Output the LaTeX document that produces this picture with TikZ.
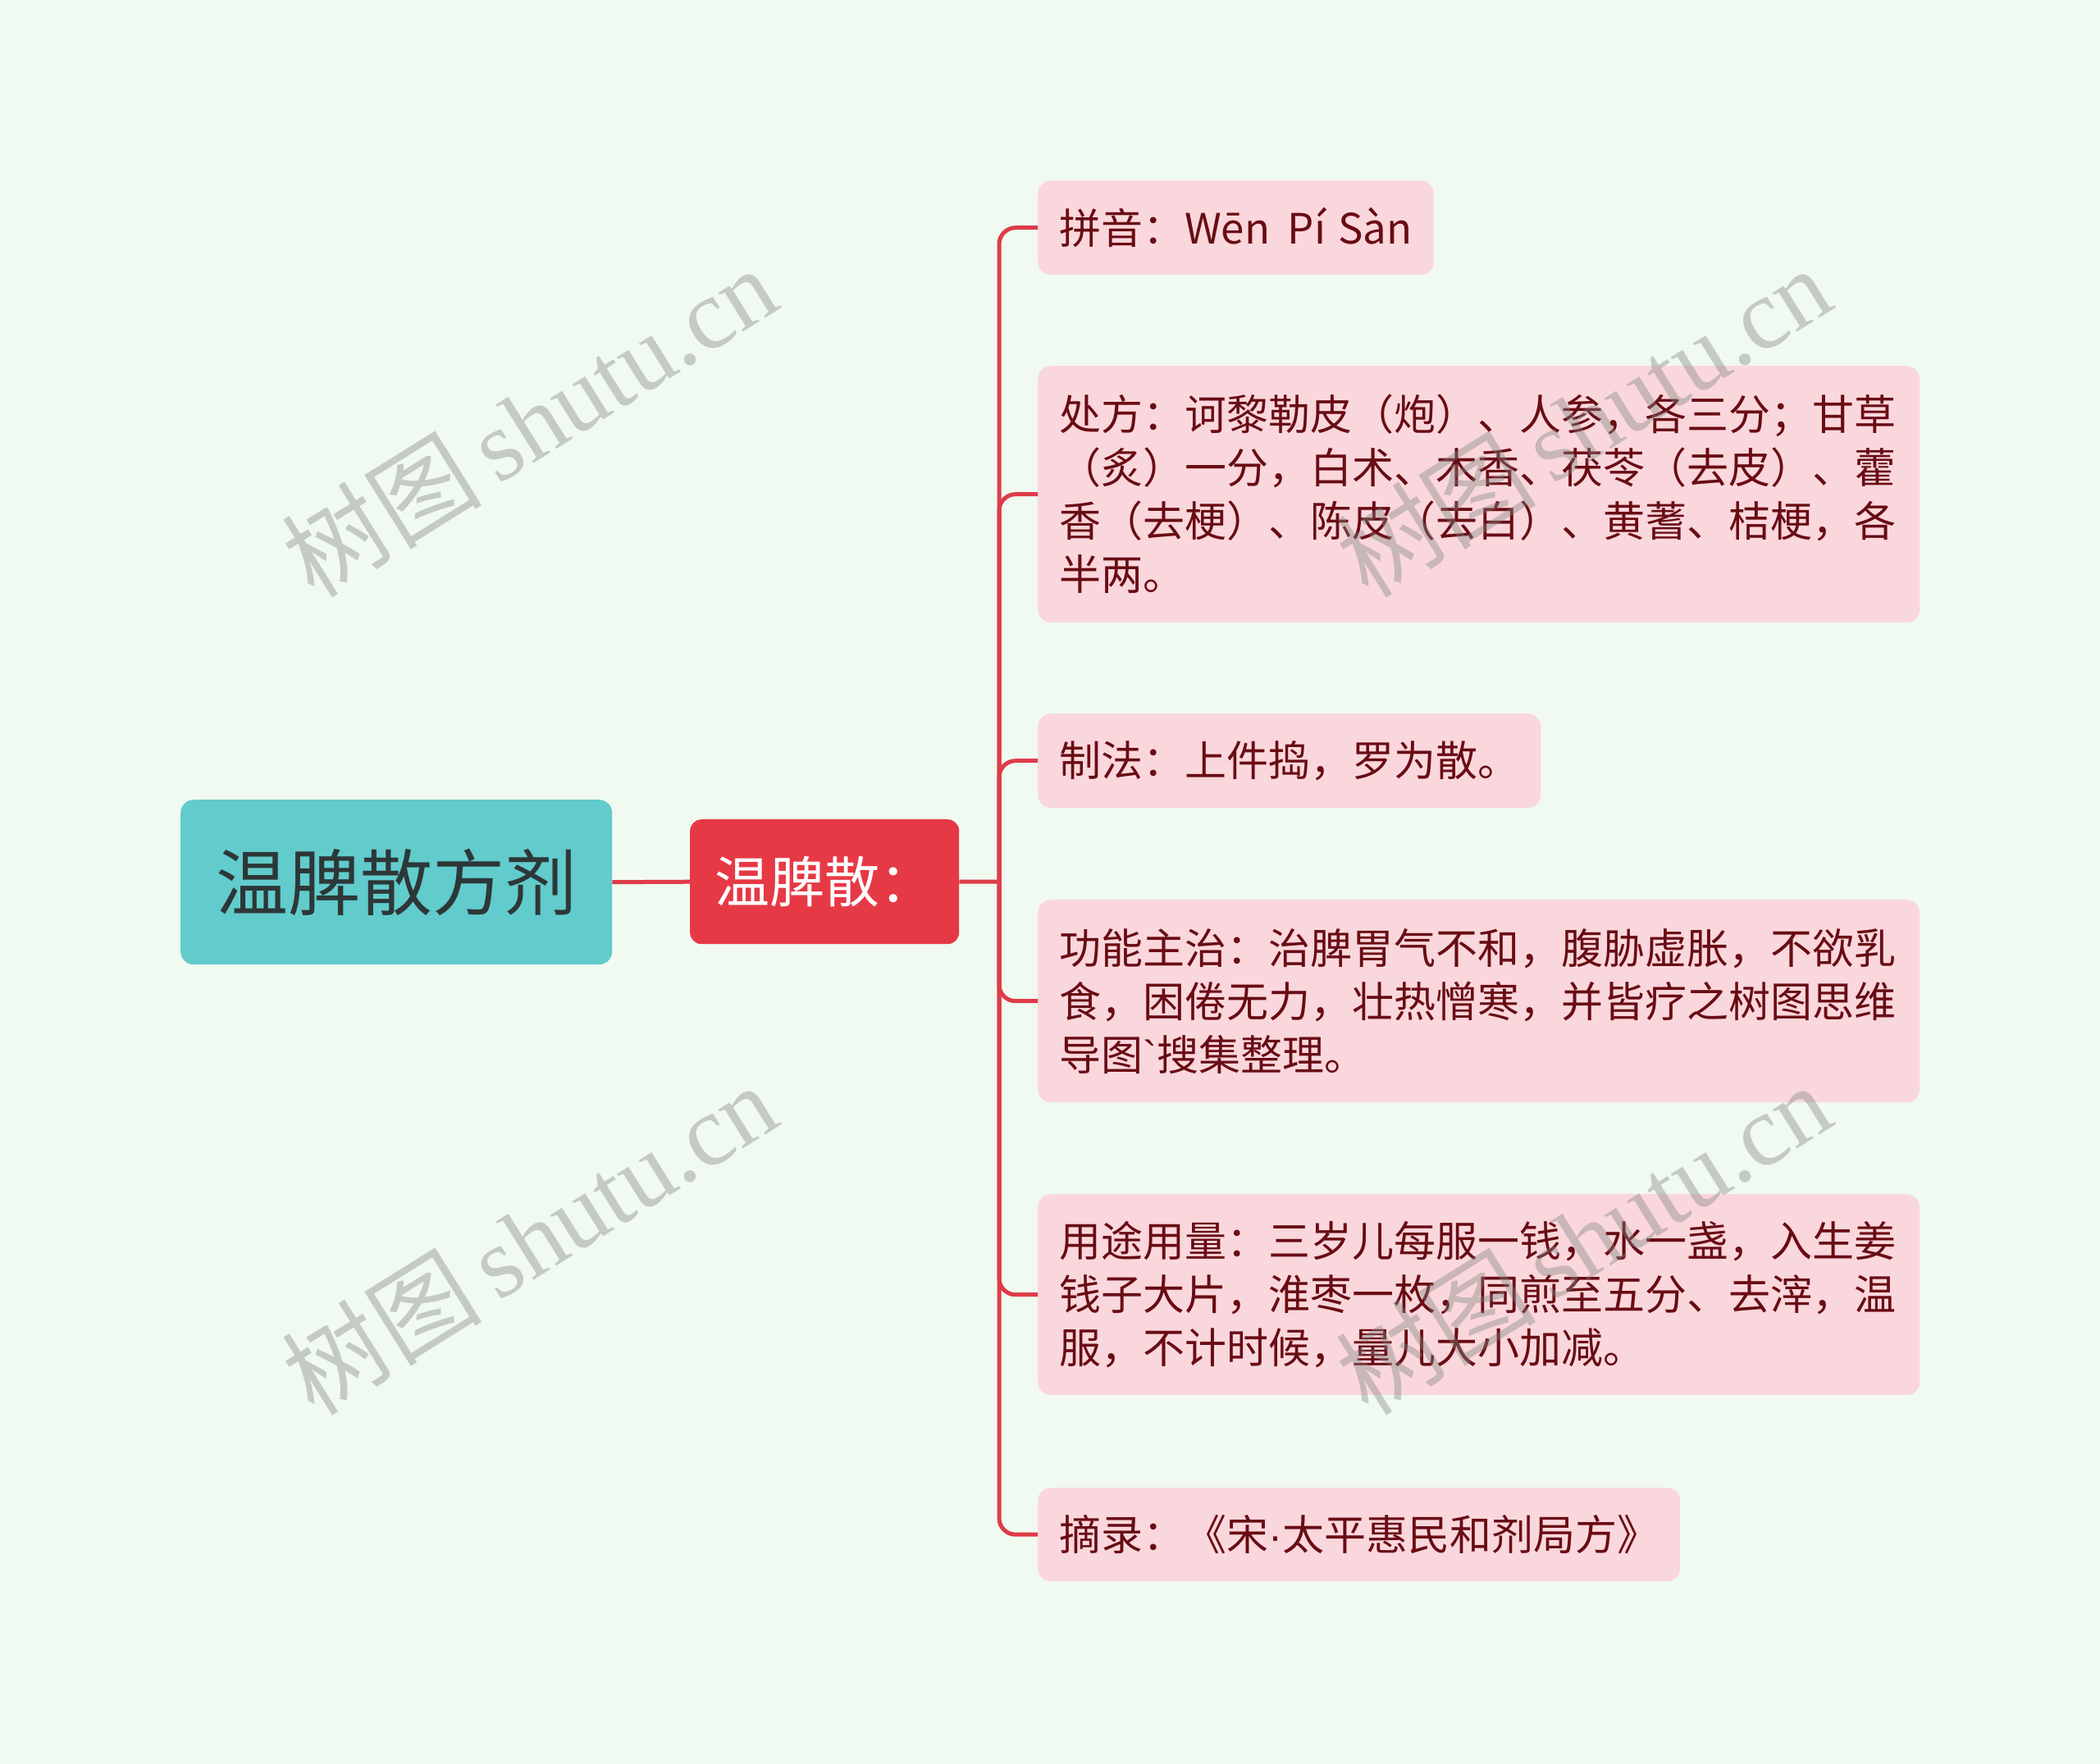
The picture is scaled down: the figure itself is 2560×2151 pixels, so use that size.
\documentclass[tikz,border=0pt]{standalone}
\usepackage{fontspec}
\newfontfamily\cjk{Noto Sans CJK SC}
\newfontfamily\wmlatin{Liberation Serif}
\newfontfamily\latsans{Liberation Sans}
\definecolor{bgc}{RGB}{240,250,240}
\definecolor{rootfill}{RGB}{98,203,204}
\definecolor{roottext}{RGB}{45,55,55}
\definecolor{redfill}{RGB}{230,57,70}
\definecolor{linered}{RGB}{222,60,72}
\definecolor{leaffill}{RGB}{250,215,220}
\definecolor{leaftext}{RGB}{105,12,20}
\definecolor{wmc}{RGB}{128,134,128}
\tikzset{
  rootbox/.style={fill=rootfill, rounded corners=16pt, text=roottext, font=\cjk\fontsize{88}{100}\selectfont, minimum width=526pt, minimum height=201pt, inner sep=0pt, anchor=north west},
  redbox/.style={fill=redfill, rounded corners=14pt, text=white, font=\cjk\fontsize{67}{80}\selectfont, minimum width=328pt, minimum height=152pt, inner sep=0pt, anchor=north west},
  leaf/.style={fill=leaffill, rounded corners=16pt, text=leaftext, font=\cjk\fontsize{51}{65}\selectfont, align=left, inner xsep=26pt, inner ysep=0pt, anchor=north west},
  wide/.style={text width=1023pt},
  conn/.style={draw=linered, line width=5pt},
  branch/.style={conn, rounded corners=20pt},
  wm/.style={text=wmc, opacity=0.4, rotate=32, anchor=center, font=\fontsize{122}{130}\selectfont}
}
\begin{document}
\begin{tikzpicture}[x=1pt,y=-1pt]
\fill[bgc] (0,0) rectangle (2560,2151);
\useasboundingbox (0,0) rectangle (2560,2151);

\node[rootbox] (root) at (220,975) {温脾散方剂};
\node[redbox] (main) at (841,999) {温脾散：};

\node[leaf, minimum height=115pt] (c1) at (1265,220) {拼音：Wēn\hspace{10pt} Pí\hspace{4pt} Sàn};
\node[leaf, wide, minimum height=313pt] (c2) at (1265,446) {处方：诃黎勒皮（炮）、人参，各三分；甘草\\（炙）一分，白术、木香、茯苓（去皮）、藿\\香（去梗）、陈皮（去白）、黄蓍、桔梗，各\\半两。};
\node[leaf, minimum height=115pt] (c3) at (1265,870) {制法：上件捣，罗为散。};
\node[leaf, wide, minimum height=247pt] (c4) at (1265,1097) {功能主治：治脾胃气不和，腹胁虚胀，不欲乳\\食，困倦无力，壮热憎寒，并皆疗之树图思维\\导图{\latsans `}搜集整理。};
\node[leaf, wide, minimum height=245pt] (c5) at (1265,1456) {用途用量：三岁儿每服一钱，水一盏，入生姜\\钱子大片，淮枣一枚，同煎至五分、去滓，温\\服，不计时候，量儿大小加减。};
\node[leaf, minimum height=114pt] (c6) at (1265,1814) {摘录：《宋{\latsans ·}太平惠民和剂局方》};

\coordinate (jn) at (1218,1075);
\draw[conn] (root.east) -- (main.west);
\draw[conn] (main.east) -- (jn);
\foreach \c in {c1,c2,c3,c4,c5,c6}{
  \draw[branch] (jn) |- (\c.west);
}

\node[wm] (wm1) at (645,514) {\cjk 树图\,\wmlatin shutu.cn};
\node[wm] (wm2) at (1930,514) {\cjk 树图\,\wmlatin shutu.cn};
\node[wm] (wm3) at (645,1510) {\cjk 树图\,\wmlatin shutu.cn};
\node[wm] (wm4) at (1930,1510) {\cjk 树图\,\wmlatin shutu.cn};
\end{tikzpicture}
\end{document}
